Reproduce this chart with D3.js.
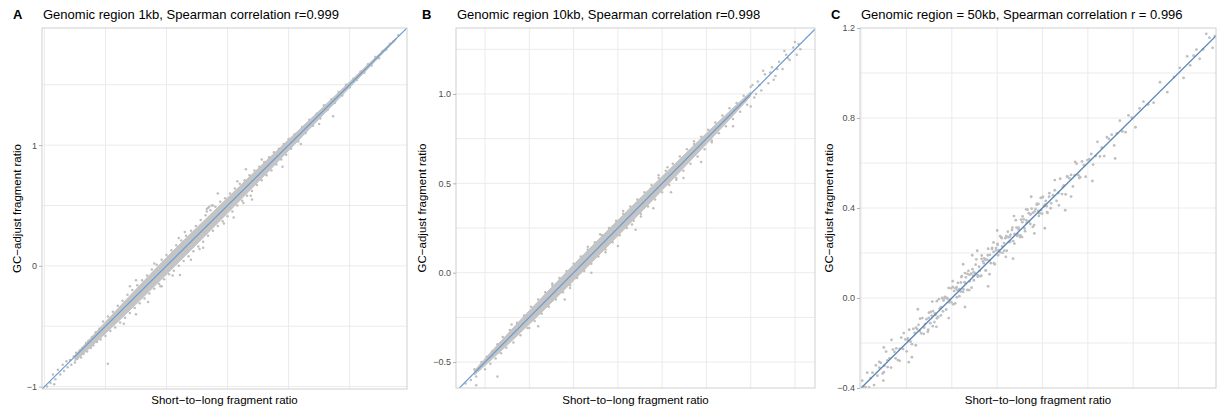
<!DOCTYPE html>
<html>
<head>
<meta charset="utf-8">
<script src="https://cdn.jsdelivr.net/npm/d3@7"></script>
<style>
  body { margin: 0; background: #fff; }
  svg text { font-family: "Liberation Sans", Arial, Helvetica, sans-serif; }
</style>
</head>
<body>
<div id="container"></div>
<script>
/* CONSTANTS AND GLOBALS */
const width = 1217;
const height = 413;

const letters = ["A", "B", "C"];
const titles = [
  "Genomic region 1kb, Spearman correlation r=0.999",
  "Genomic region 10kb, Spearman correlation r=0.998",
  "Genomic region = 50kb, Spearman correlation r = 0.996"
];
const xTitle = "Short\u2212to\u2212long fragment ratio";
const yTitle = "GC\u2212adjust fragment ratio";

// axis domains (x, y) per panel
const xDomA = [-1.02, 1.97], yDomA = [-1.02, 1.97];
const xDomB = [-0.664, 1.363], yDomB = [-0.645, 1.369];
const xDomC = [-0.405, 1.165], yDomC = [-0.4, 1.2];

// y tick labels and grid breaks
const yTicksA = [-1, 0, 1];
const yTicksB = [-0.5, 0, 0.5, 1.0];
const yTicksC = [-0.4, 0, 0.4, 0.8, 1.2];
const gridA = [-1, -0.5, 0, 0.5, 1, 1.5];
const gridB = [-0.5, -0.25, 0, 0.25, 0.5, 0.75, 1.0, 1.25];
const gridC = [-0.4, -0.2, 0, 0.2, 0.4, 0.6, 0.8, 1.0, 1.2];

// fitted lines
const lineA = [[-1.02, -1.02], [1.97, 1.97]];
const lineB = [[-0.664, -0.664], [1.369, 1.369]];
const lineC = [[-0.405, -0.405], [1.2, 1.2]];

// dense core of the point cloud (x, lower y, upper y)
const bandAx  = [-0.75, -0.6, -0.4, -0.2, 0, 0.2, 0.4, 0.6, 0.8, 1.0, 1.2, 1.4, 1.6, 1.75, 1.88];
const bandAlo = [-0.79, -0.655, -0.465, -0.27, -0.07, 0.13, 0.335, 0.54, 0.745, 0.955, 1.165, 1.372, 1.58, 1.737, 1.874];
const bandAhi = [-0.74, -0.575, -0.355, -0.14, 0.07, 0.27, 0.465, 0.66, 0.855, 1.045, 1.235, 1.428, 1.62, 1.763, 1.886];

const bandBx  = [-0.56, -0.45, -0.3, -0.15, 0, 0.15, 0.3, 0.45, 0.6, 0.75, 0.9, 1.0];
const bandBlo = [-0.572, -0.475, -0.336, -0.192, -0.045, 0.105, 0.257, 0.41, 0.564, 0.72, 0.878, 0.988];
const bandBhi = [-0.548, -0.425, -0.264, -0.108, 0.045, 0.195, 0.343, 0.49, 0.636, 0.78, 0.922, 1.012];

// individual points
const ptsA = [
  [-0.98,-1.0],[-0.95,-0.97],[-0.93,-0.9],[-0.91,-0.94],[-0.89,-0.86],[-0.87,-0.9],[-0.85,-0.82],[-0.84,-0.87],
  [-0.82,-0.79],[-0.81,-0.84],[-0.79,-0.78],[-0.78,-0.82],[-0.76,-0.75],[-0.75,-0.8],[-0.74,-0.72],[-0.73,-0.77],
  [-0.71,-0.7],[-0.7,-0.76],[-0.69,-0.68],[-0.68,-0.73],[-0.66,-0.64],[-0.65,-0.71],[-0.64,-0.62],[-0.62,-0.68],
  [-0.61,-0.59],[-0.6,-0.66],[-0.58,-0.55],[-0.57,-0.63],[-0.55,-0.52],[-0.48,-0.81],[-0.92,-0.98],
  [-0.54,-0.61],[-0.52,-0.46],[-0.5,-0.58],[-0.48,-0.42],[-0.46,-0.54],[-0.44,-0.38],[-0.42,-0.51],[-0.4,-0.33],
  [-0.38,-0.47],[-0.36,-0.29],[-0.34,-0.43],[-0.32,-0.24],[-0.3,-0.39],[-0.28,-0.2],[-0.26,-0.35],[-0.24,-0.16],
  [-0.22,-0.31],[-0.2,-0.12],[-0.18,-0.27],[-0.16,-0.08],[-0.14,-0.23],[-0.12,-0.03],[-0.1,-0.19],[-0.08,0.01],
  [-0.06,-0.15],[-0.04,0.05],[-0.02,-0.11],[0.0,0.09],[0.02,-0.07],[0.04,0.13],[0.06,-0.04],[0.08,0.17],
  [0.1,0.0],[0.12,0.21],[0.14,0.04],[0.16,0.25],[0.18,0.08],[0.2,0.29],[0.22,0.12],[0.24,0.33],[0.26,0.16],
  [0.28,0.38],[0.3,0.2],[0.32,0.42],[0.34,0.25],[0.36,0.46],[0.38,0.29],[0.4,0.49],[0.42,0.33],[0.44,0.53],
  [0.46,0.37],[0.48,0.56],[0.5,0.41],[0.52,0.6],[0.54,0.45],[0.56,0.64],[0.58,0.5],[0.6,0.68],[0.62,0.54],
  [0.64,0.71],[0.66,0.58],[0.68,0.75],[0.7,0.62],[0.72,0.79],[0.74,0.67],[0.76,0.82],[0.78,0.71],[0.8,0.86],
  [0.82,0.75],[0.84,0.9],[0.86,0.79],[0.88,0.94],[0.9,0.84],[0.92,0.97],[0.94,0.88],[0.96,1.01],[0.98,0.92],
  [1.0,1.05],[1.02,0.97],[1.05,1.09],[1.08,1.03],[1.11,1.15],[1.14,1.1],[1.17,1.21],[1.2,1.16],[1.23,1.26],
  [1.26,1.22],[1.29,1.33],[1.32,1.29],[1.35,1.38],[1.38,1.35],[1.41,1.44],[1.44,1.41],[1.47,1.5],[1.5,1.48],
  [1.53,1.55],[1.56,1.54],[1.59,1.61],[1.62,1.6],[1.65,1.67],[1.68,1.66],[1.71,1.73],[1.74,1.72],[1.77,1.78],
  [1.8,1.79],[1.83,1.84],[1.86,1.86],[1.9,1.91],
  [-0.25,-0.12],[-0.1,0.02],[0.05,-0.08],[0.15,0.28],[0.27,0.14],[0.38,0.5],[0.47,0.35],[0.58,0.7],[0.69,0.58],
  [-0.35,-0.48],[-0.05,-0.17],[0.33,0.45],[0.1,0.23],[0.78,0.88],[0.63,0.52],[0.33,0.47],[0.35,0.49],[0.37,0.5],
  [0.34,0.48],
  [0.11,-0.075],[-0.04,-0.17],[1.25,1.175],[1.365,1.24],[-0.25,-0.4],[0.3,0.15],[0.55,0.4],[0.7,0.55],
  [0.95,0.82],[0.2,0.05],[-0.15,-0.3],[1.1,1.01],[0.42,0.6],[0.65,0.8],[-0.3,-0.17]
];

const ptsB = [
  [-0.61,-0.62],[-0.58,-0.6],[-0.56,-0.54],[-0.55,-0.58],[-0.53,-0.54],[-0.52,-0.5],[-0.5,-0.54],[-0.49,-0.47],
  [-0.47,-0.51],[-0.46,-0.44],[-0.44,-0.48],[-0.43,-0.4],[-0.41,-0.45],[-0.4,-0.36],[-0.38,-0.42],[-0.36,-0.32],
  [-0.34,-0.39],[-0.32,-0.28],[-0.3,-0.35],[-0.28,-0.24],[-0.26,-0.31],[-0.24,-0.19],[-0.22,-0.27],[-0.2,-0.15],
  [-0.18,-0.23],[-0.16,-0.11],[-0.14,-0.19],[-0.12,-0.07],[-0.1,-0.15],[-0.08,-0.03],[-0.06,-0.11],[-0.04,0.01],
  [-0.02,-0.07],[0.0,0.05],[0.02,-0.03],[0.04,0.09],[0.06,0.01],[0.08,0.13],[0.1,0.05],[0.12,0.17],[0.14,0.09],
  [0.16,0.21],[0.18,0.13],[0.2,0.25],[0.22,0.17],[0.24,0.29],[0.26,0.21],[0.28,0.33],[0.3,0.25],[0.32,0.37],
  [0.34,0.29],[0.36,0.41],[0.38,0.33],[0.4,0.45],[0.42,0.37],[0.44,0.49],[0.46,0.41],[0.48,0.53],[0.5,0.45],
  [0.52,0.57],[0.54,0.49],[0.56,0.61],[0.58,0.53],[0.6,0.65],[0.62,0.57],[0.64,0.69],[0.66,0.61],[0.68,0.72],
  [0.7,0.65],[0.72,0.76],[0.74,0.69],[0.76,0.8],[0.78,0.74],[0.8,0.84],[0.82,0.78],[0.84,0.88],[0.86,0.82],
  [0.88,0.92],[0.9,0.86],[0.92,0.95],[0.94,0.9],[0.96,0.99],[0.98,0.94],[1.0,1.04],[1.02,0.98],[1.04,1.07],
  [1.06,1.02],[1.08,1.11],[1.1,1.06],[1.12,1.15],[1.14,1.1],[1.16,1.18],[1.18,1.14],[1.2,1.22],[1.22,1.19],
  [1.24,1.26],[1.26,1.22],[1.28,1.25],[1.25,1.29],[1.19,1.24],[1.13,1.08],[1.07,1.13],[1.03,1.0],[1.01,1.05],
  [1.11,1.12],[1.21,1.2],[1.27,1.28],[0.97,0.96],[1.05,1.05],[1.15,1.14],
  [-0.35,-0.29],[-0.25,-0.31],[-0.12,-0.06],[-0.02,-0.085],[0.08,0.145],[0.18,0.115],[0.28,0.345],[0.38,0.315],
  [0.48,0.545],[0.58,0.52],[0.68,0.735],[0.78,0.73],[0.15,0.215],[0.33,0.27],[0.53,0.59],
  [-0.43,-0.58],[-0.2,-0.3],[0.1,0.0],[0.35,0.24],[0.55,0.45],[0.72,0.62],[0.9,0.82],[-0.05,-0.15],
  [0.45,0.36],[0.62,0.53],[1.0,0.93],[0.25,0.15],[-0.55,-0.63]
];

const ptsC = [
  [-0.395,-0.367],[-0.388,-0.394],[-0.38,-0.396],[-0.373,-0.332],[-0.365,-0.397],[-0.358,-0.356],[-0.35,-0.332],
  [-0.343,-0.387],[-0.335,-0.299],[-0.328,-0.345],[-0.32,-0.309],[-0.313,-0.288],[-0.305,-0.335],[-0.298,-0.301],
  [-0.29,-0.238],[-0.283,-0.307],[-0.275,-0.268],[-0.268,-0.309],[-0.26,-0.229],[-0.253,-0.239],[-0.245,-0.224],
  [-0.238,-0.276],[-0.23,-0.226],[-0.223,-0.176],[-0.215,-0.227],
  [-0.205,-0.184],[-0.199,-0.237],[-0.193,-0.189],[-0.188,-0.141],[-0.182,-0.194],[-0.176,-0.205],[-0.17,-0.137],
  [-0.164,-0.155],[-0.159,-0.21],[-0.153,-0.138],[-0.147,-0.119],[-0.141,-0.147],[-0.135,-0.157],[-0.13,-0.089],
  [-0.124,-0.159],[-0.118,-0.116],[-0.112,-0.094],[-0.106,-0.15],[-0.101,-0.065],[-0.095,-0.112],[-0.089,-0.078],
  [-0.083,-0.058],[-0.077,-0.107],[-0.072,-0.075],[-0.066,-0.014],[-0.06,-0.084],[-0.054,-0.047],[-0.048,-0.077],
  [-0.043,0.0],[-0.037,-0.011],[-0.031,0.002],[-0.025,-0.051],[-0.019,-0.003],[-0.014,0.045],[-0.008,-0.008],
  [-0.002,-0.019],[0.004,0.049],[0.01,0.031],[0.015,-0.024],[0.021,0.048],[0.027,0.067],[0.033,0.039],
  [0.039,0.029],[0.044,0.097],[0.05,0.027],[0.056,0.07],[0.062,0.092],[0.068,0.036],[0.073,0.121],[0.079,0.074],
  [0.085,0.108],[0.091,0.128],[0.097,0.079],[0.102,0.111],[0.108,0.172],[0.114,0.102],[0.12,0.139],[0.126,0.097],
  [0.131,0.174],[0.137,0.163],[0.143,0.176],[0.149,0.123],[0.155,0.171],[0.16,0.219],[0.166,0.166],[0.172,0.155],
  [0.178,0.223],[0.184,0.205],[0.189,0.15],[0.195,0.222],[0.201,0.241],[0.207,0.213],[0.213,0.203],[0.218,0.271],
  [0.224,0.201],[0.23,0.244],[0.236,0.266],[0.242,0.21],[0.247,0.295],[0.253,0.248],[0.259,0.282],[0.265,0.302],
  [0.271,0.253],[0.276,0.285],[0.282,0.346],[0.288,0.276],[0.294,0.313],[0.3,0.271],[0.305,0.348],[0.311,0.337],
  [0.317,0.35],[0.323,0.297],[0.329,0.345],[0.334,0.393],[0.34,0.34],[0.346,0.329],[0.352,0.397],[0.358,0.379],
  [0.363,0.324],[0.369,0.396],[0.375,0.415],[0.381,0.387],[0.387,0.377],[0.392,0.445],[0.398,0.375],
  [0.406,0.408],[0.414,0.432],[0.422,0.378],[0.43,0.466],[0.438,0.421],[0.446,0.457],[0.454,0.479],[0.462,0.432],
  [0.47,0.467],[0.478,0.53],[0.486,0.462],[0.494,0.501],[0.502,0.461],[0.51,0.541],[0.518,0.532],[0.526,0.547],
  [0.534,0.496],[0.542,0.546],[0.55,0.597],[0.558,0.546],[0.566,0.537],[0.574,0.607],[0.582,0.591],[0.59,0.539],
  [0.598,0.613],
  [-0.102,-0.088],[-0.093,-0.062],[-0.084,-0.125],[-0.075,-0.068],[-0.066,-0.09],[-0.057,-0.005],[-0.048,-0.041],
  [-0.039,-0.059],[-0.03,0.005],[-0.021,0.0],[-0.012,-0.019],[-0.003,0.043],[0.006,-0.028],[0.015,0.043],
  [0.024,0.036],[0.033,0.008],[0.042,0.093],[0.051,0.039],[0.06,0.064],[0.069,0.107],[0.078,0.103],[0.087,0.046],
  [0.096,0.115],[0.105,0.148],[0.114,0.095],[0.123,0.121],[0.132,0.189],[0.141,0.155],[0.15,0.122],[0.159,0.19],
  [0.168,0.192],[0.177,0.218],[0.186,0.155],[0.195,0.212],[0.204,0.19],[0.213,0.275],[0.222,0.229],[0.231,0.211],
  [0.24,0.275],[0.249,0.27],[0.258,0.251],[0.267,0.313],[0.276,0.242],[0.285,0.313],[0.294,0.306],[0.303,0.278],
  [0.312,0.363],[0.321,0.309],[0.33,0.334],[0.339,0.377],[0.348,0.373],[0.357,0.316],[0.366,0.385],[0.375,0.418],
  [0.384,0.365],[0.393,0.391],[0.402,0.449],[0.411,0.415],[0.42,0.382],[0.429,0.45],
  [-0.32,-0.284],[-0.302,-0.367],[-0.284,-0.277],[-0.266,-0.186],[-0.248,-0.268],[-0.23,-0.279],[-0.212,-0.156],
  [-0.194,-0.179],[-0.176,-0.263],[-0.158,-0.132],[-0.14,-0.092],[-0.122,-0.132],[-0.104,-0.141],[-0.086,-0.016],
  [-0.068,-0.128],[-0.05,-0.047],[-0.032,-0.001],[-0.014,-0.089],[0.004,0.075],[0.022,0.003],[0.04,0.069],
  [0.058,0.111],[0.076,0.035],[0.094,0.099],[0.112,0.21],[0.13,0.099],[0.148,0.17],[0.166,0.106],[0.184,0.247],
  [0.202,0.236],[0.22,0.266],[0.238,0.183],[0.256,0.273],[0.274,0.364],[0.292,0.282],[0.31,0.271],[0.328,0.394],
  [0.346,0.371],[0.364,0.287],[0.382,0.418],[0.4,0.448],[0.418,0.408],[0.436,0.399],[0.454,0.524],[0.472,0.412],
  [0.49,0.493],[0.508,0.539],[0.526,0.451],[0.544,0.605],[0.562,0.533],
  [0.606,0.617],[0.615,0.64],[0.623,0.593],[0.634,0.631],[0.642,0.694],[0.653,0.629],[0.661,0.668],[0.672,0.631],
  [0.684,0.715],[0.693,0.707],[0.705,0.726],[0.716,0.678],[0.728,0.732],[0.741,0.788],[0.752,0.74],[0.766,0.737],
  [0.779,0.812],[0.793,0.802],[0.81,0.759],[0.828,0.843],[0.845,0.873],[0.866,0.86],[0.89,0.868],[0.918,0.959],
  [0.95,0.915],[0.98,0.982],[1.005,1.023],[1.022,0.978],[1.038,1.074],[1.051,1.034],[1.066,1.077],[1.079,1.104],
  [1.093,1.063],[1.108,1.105],[1.122,1.174],[1.136,1.157],[1.15,1.112],[1.16,1.164],
  [-0.3,-0.33],[-0.19,-0.285],[0.058,-0.04],[0.16,0.052],[0.27,0.175],[0.41,0.31],[0.2,0.3],[0.05,0.15],
  [-0.15,-0.05],[0.5,0.39],[0.35,0.45],[0.62,0.52],[0.72,0.62],[-0.3,-0.22],[0.09,0.19]
];

/* PANEL LAYOUT */
const panels = [
  { left: 42, right: 407, top: 28, bottom: 389, letterX: 13, yTitleX: 17,
    lineW: 1.2, lineCol: "#6a9bd3", ptR: 1.25,
    xDom: xDomA, yDom: yDomA, ticks: yTicksA, grid: gridA, fmt: d3.format("d"),
    line: lineA, pts: ptsA, band: d3.zip(bandAx, bandAlo, bandAhi) },
  { left: 456, right: 815, top: 28, bottom: 388, letterX: 422, yTitleX: 422,
    lineW: 1.2, lineCol: "#6a9bd3", ptR: 1.25,
    xDom: xDomB, yDom: yDomB, ticks: yTicksB, grid: gridB, fmt: d3.format(".1f"),
    line: lineB, pts: ptsB, band: d3.zip(bandBx, bandBlo, bandBhi) },
  { left: 860, right: 1216, top: 28, bottom: 388, letterX: 831, yTitleX: 829,
    lineW: 1.4, lineCol: "#5a86b8", ptR: 1.4,
    xDom: xDomC, yDom: yDomC, ticks: yTicksC, grid: gridC, fmt: d3.format(".1f"),
    line: lineC, pts: ptsC, band: [] }
];

const svg = d3.select("#container")
  .append("svg")
  .attr("width", width)
  .attr("height", height);

panels.forEach((p, i) => {
  const xScale = d3.scaleLinear().domain(p.xDom).range([p.left, p.right]);
  const yScale = d3.scaleLinear().domain(p.yDom).range([p.bottom, p.top]);
  const g = svg.append("g");

  // clip to panel
  const clipId = "clip" + i;
  g.append("clipPath").attr("id", clipId)
    .append("rect")
    .attr("x", p.left).attr("y", p.top)
    .attr("width", p.right - p.left).attr("height", p.bottom - p.top);

  // grid
  g.selectAll(".vgrid")
    .data(p.grid.filter(v => v > p.xDom[0] && v < p.xDom[1]))
    .join("line")
    .attr("class", "vgrid")
    .attr("x1", d => xScale(d)).attr("x2", d => xScale(d))
    .attr("y1", p.top).attr("y2", p.bottom)
    .attr("stroke", "#ebebeb").attr("stroke-width", 1);
  g.selectAll(".hgrid")
    .data(p.grid.filter(v => v > p.yDom[0] && v < p.yDom[1]))
    .join("line")
    .attr("class", "hgrid")
    .attr("y1", d => yScale(d)).attr("y2", d => yScale(d))
    .attr("x1", p.left).attr("x2", p.right)
    .attr("stroke", "#ebebeb").attr("stroke-width", 1);

  const plot = g.append("g").attr("clip-path", `url(#${clipId})`);

  // dense core
  if (p.band.length) {
    plot.append("path")
      .datum(p.band)
      .attr("d", d3.area()
        .x(d => xScale(d[0]))
        .y0(d => yScale(d[1]))
        .y1(d => yScale(d[2]))
        .curve(d3.curveBasis))
      .attr("fill", "#c4c4c4")
      .attr("stroke", "#c4c4c4")
      .attr("stroke-width", 1);
  }

  // points
  plot.selectAll(".pt")
    .data(p.pts)
    .join("circle")
    .attr("class", "pt")
    .attr("cx", d => xScale(d[0]))
    .attr("cy", d => yScale(d[1]))
    .attr("r", p.ptR)
    .attr("fill", "#bfbfbf");

  // line
  plot.append("path")
    .datum(p.line)
    .attr("d", d3.line().x(d => xScale(d[0])).y(d => yScale(d[1])))
    .attr("fill", "none")
    .attr("stroke", p.lineCol)
    .attr("stroke-width", p.lineW);

  // border
  g.append("rect")
    .attr("x", p.left).attr("y", p.top)
    .attr("width", p.right - p.left).attr("height", p.bottom - p.top)
    .attr("fill", "none").attr("stroke", "#d0d0d0").attr("stroke-width", 1);

  // y axis
  const yAxis = d3.axisLeft(yScale)
    .tickValues(p.ticks)
    .tickSize(3)
    .tickPadding(2)
    .tickFormat(p.fmt);
  const ya = g.append("g")
    .attr("transform", `translate(${p.left},0)`)
    .call(yAxis);
  ya.select(".domain").remove();
  ya.selectAll(".tick line").attr("stroke", "#b3b3b3");
  ya.selectAll(".tick text")
    .attr("fill", "#4d4d4d")
    .style("font-size", "9px")
    .style("font-family", "'Liberation Sans', Arial, sans-serif");

  // titles
  svg.append("text")
    .attr("x", p.letterX).attr("y", 19)
    .style("font-size", "13px").style("font-weight", "bold")
    .text(letters[i]);
  svg.append("text")
    .attr("x", p.left + 1).attr("y", 19)
    .style("font-size", "13px")
    .text(titles[i]);

  // axis titles
  svg.append("text")
    .attr("x", (p.left + p.right) / 2).attr("y", 404)
    .attr("text-anchor", "middle")
    .style("font-size", "11.5px")
    .text(xTitle);
  svg.append("text")
    .attr("transform", `translate(${p.yTitleX + 4},${(p.top + p.bottom) / 2}) rotate(-90)`)
    .attr("text-anchor", "middle")
    .style("font-size", "11.5px")
    .text(yTitle);
});
</script>
</body>
</html>
